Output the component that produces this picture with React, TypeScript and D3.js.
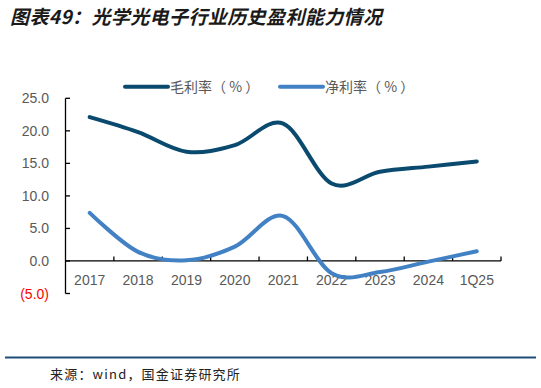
import React from "react";
import * as d3 from "d3";

const categories = ["2017", "2018", "2019", "2020", "2021", "2022", "2023", "2024", "1Q25"];
const grossMargin = [22.1, 19.8, 16.8, 17.8, 21.1, 11.9, 13.7, 14.5, 15.3];
const netMargin = [7.4, 1.4, 0.1, 2.2, 6.9, -1.9, -1.7, -0.1, 1.5];
const yTicks = [-5, 0, 5, 10, 15, 20, 25];
const seriesNames = ["毛利率（ % ）", "净利率（ % ）"];
const title = "图表49：光学光电子行业历史盈利能力情况";
const source = "来源：wind，国金证券研究所";

const DARK = "#0B4A6F";
const LIGHT = "#4282C4";
const GRAY = "#595959";

export default function App() {
  const W = 541, H = 388;
  const x = d3.scaleBand<string>().domain(categories).range([65.5, 501]).padding(0);
  const y = d3.scaleLinear().domain([-5, 25]).range([293.5, 98.3]);
  const cx = (c: string) => (x(c) as number) + x.bandwidth() / 2;
  const line = d3
    .line<number>()
    .x((_, i) => cx(categories[i]))
    .y((d) => y(d))
    .curve(d3.curveCardinal.tension(0));
  const fmt = (v: number) => (v < 0 ? `(${Math.abs(v).toFixed(1)})` : v.toFixed(1));
  const font = "'Liberation Sans', Arial, sans-serif";
  const cjk = "'Noto Sans CJK SC', 'Liberation Sans', sans-serif";
  const axisX = 65.5;
  const y0 = y(0);

  return (
    <svg
      width={W}
      height={H}
      viewBox={`0 0 ${W} ${H}`}
      style={{ position: "absolute", left: 0, top: 0, background: "#fff" }}
    >
      <rect width={W} height={H} fill="#fff" />
      <text
        x={10}
        y={24}
        fontFamily={cjk}
        fontSize={19}
        fontStyle="italic"
        fontWeight={700}
        letterSpacing={0.4}
        fill="#1a1a1a"
      >
        {title}
      </text>

      {/* legend */}
      <line x1={125} x2={168} y1={86.7} y2={86.7} stroke={DARK} strokeWidth={4} strokeLinecap="round" />
      <text x={170} y={92} fontFamily={cjk} fontSize={14} fill={GRAY} style={{ whiteSpace: "pre" }}>{seriesNames[0]}</text>
      <line x1={280} x2={323} y1={86.7} y2={86.7} stroke={LIGHT} strokeWidth={4} strokeLinecap="round" />
      <text x={325} y={92} fontFamily={cjk} fontSize={14} fill={GRAY} style={{ whiteSpace: "pre" }}>{seriesNames[1]}</text>

      {/* y axis */}
      <line x1={axisX} x2={axisX} y1={y(25)} y2={y(-5)} stroke="#000" strokeWidth={1.3} />
      {yTicks.map((t) => (
        <g key={t}>
          <line x1={axisX} x2={axisX + 4.5} y1={y(t)} y2={y(t)} stroke="#000" strokeWidth={1.3} />
          <text
            x={49}
            y={y(t)}
            dy="0.36em"
            textAnchor="end"
            fontFamily={font}
            fontSize={14}
            fill={t < 0 ? "#FF0000" : GRAY}
          >
            {fmt(t)}
          </text>
        </g>
      ))}

      {/* x axis */}
      <line x1={axisX} x2={501} y1={y0} y2={y0} stroke="#000" strokeWidth={1.3} />
      {categories.map((c) => (
        <g key={c}>
          <line
            x1={(x(c) as number) + x.bandwidth()}
            x2={(x(c) as number) + x.bandwidth()}
            y1={y0}
            y2={y0 - 4.5}
            stroke="#000"
            strokeWidth={1.3}
          />
          <text x={cx(c)} y={285} textAnchor="middle" fontFamily={font} fontSize={14} fill={GRAY}>
            {c}
          </text>
        </g>
      ))}

      {/* lines */}
      <path d={line(grossMargin) || ""} fill="none" stroke={DARK} strokeWidth={4} strokeLinecap="round" />
      <path d={line(netMargin) || ""} fill="none" stroke={LIGHT} strokeWidth={4} strokeLinecap="round" />

      {/* footer */}
      <line x1={5} x2={536} y1={357.5} y2={357.5} stroke="#1F4E79" strokeWidth={2} />
      <text x={50} y={379} fontFamily={cjk} fontSize={13} letterSpacing={1.2} fill="#222">
        {source}
      </text>
    </svg>
  );
}
